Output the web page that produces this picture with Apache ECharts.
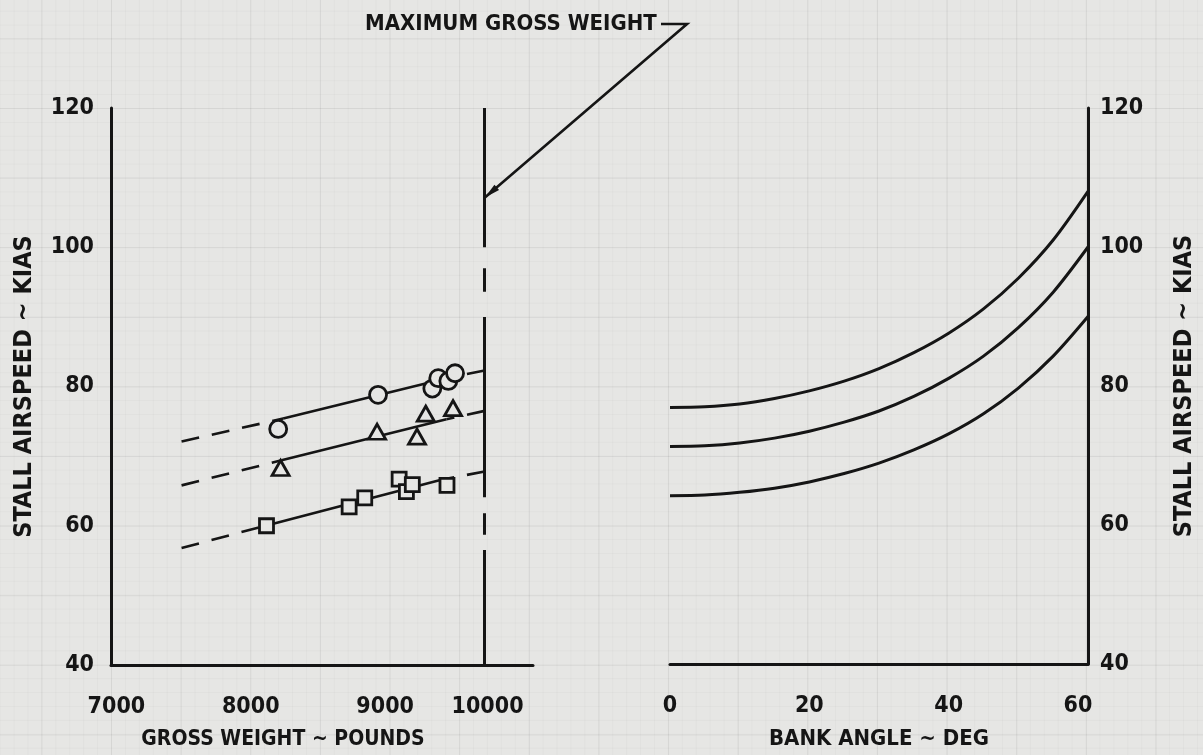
<!DOCTYPE html>
<html>
<head>
<meta charset="utf-8">
<title>Stall airspeed</title>
<script src="https://cdn.jsdelivr.net/npm/echarts@6/dist/echarts.min.js"></script>
<style>
    html, body { margin: 0; padding: 0; }
    body {
        background-color: #e6e6e4;
        background-image:
            linear-gradient(to right, rgba(0,0,0,0.05) 1px, transparent 1px),
            linear-gradient(to bottom, rgba(0,0,0,0.05) 1px, transparent 1px),
            linear-gradient(to right, rgba(0,0,0,0.022) 1px, transparent 1px),
            linear-gradient(to bottom, rgba(0,0,0,0.022) 1px, transparent 1px);
        background-size: 69.65px 69.62px, 69.65px 69.62px, 13.93px 13.92px, 13.93px 13.92px;
        background-position: 111px 108px;
    }
    #chart { width: 1203px; height: 755px; }
</style>
</head>
<body>
<div id="chart"></div>
<script>
const FONT = "'Liberation Sans Narrow', 'DejaVu Sans Condensed', 'Liberation Sans', sans-serif";
const INK = '#151515';
const PAPER = '#e6e6e4';

// left panel: stall airspeed vs gross weight (pounds, KIAS)
const MAX_GROSS_WEIGHT = 9740;
const weightTicks = [7000, 8000, 9000, 10000];
const circlePts = [[8204, 73.9], [8947, 78.8], [9351, 79.7], [9395, 81.2], [9470, 80.8], [9520, 81.9]];
const trianglePts = [[8222, 68.3], [8940, 73.5], [9237, 72.8], [9302, 76.1], [9505, 76.9]];
const squarePts = [[8117, 60.0], [8732, 62.7], [8848, 64.0], [9104, 66.7], [9158, 64.9], [9202, 65.9], [9460, 65.8]];

// faired lines through each group: solid part, dashed extensions
const circleFit = [[8241, 75.4], [9505, 81.4]];
const circleExtLeft = [[7485, 72.1], [8241, 75.4]];
const circleExtRight = [[9740, 82.3], [9505, 81.4]];
const triangleFit = [[8229, 69.4], [9456, 75.3]];
const triangleExtLeft = [[7485, 65.8], [8229, 69.4]];
const triangleExtRight = [[9740, 76.5], [9456, 75.3]];
const squareFit = [[8167, 60.3], [9418, 66.6]];
const squareExtLeft = [[7485, 56.8], [8167, 60.3]];
const squareExtRight = [[9740, 67.8], [9418, 66.6]];

// drawn pieces of the maximum gross weight line (airspeed from, to)
const maxWeightPieces = [[120, 100], [97, 93.6], [90, 64.1], [61.8, 58.7], [56.5, 40]];

// right panel: stall airspeed vs bank angle
const bankAngles = [0, 5, 10, 15, 20, 25, 30, 35, 40, 45, 50, 55, 60];
const vHigh = [76.9, 77.0, 77.4, 78.2, 79.3, 80.7, 82.5, 84.8, 87.6, 91.1, 95.5, 101.0, 108.0];
const vMid = [71.3, 71.4, 71.8, 72.5, 73.5, 74.8, 76.4, 78.5, 81.1, 84.3, 88.4, 93.5, 100.0];
const vLow = [64.2, 64.3, 64.7, 65.3, 66.2, 67.4, 68.9, 70.8, 73.1, 76.0, 79.7, 84.3, 90.0];

const labelFont = { fontFamily: FONT, fontWeight: 'bold', color: INK };

function fitSeries(data, dashed) {
    return {
        type: 'line',
        xAxisIndex: 0,
        yAxisIndex: 0,
        data: data,
        symbol: 'none',
        silent: true,
        z: 2,
        lineStyle: { color: INK, width: 2.6, type: dashed ? [18, 13] : 'solid', cap: 'butt' }
    };
}

function pointSeries(data, symbol, size) {
    return {
        type: 'scatter',
        xAxisIndex: 0,
        yAxisIndex: 0,
        data: data,
        symbol: symbol,
        symbolSize: size,
        z: 4,
        itemStyle: { color: PAPER, borderColor: INK, borderWidth: 2.8, opacity: 1 }
    };
}

function bankSeries(values) {
    return {
        type: 'line',
        xAxisIndex: 1,
        yAxisIndex: 1,
        data: bankAngles.map((b, i) => [b, values[i]]),
        smooth: 0.3,
        symbol: 'none',
        silent: true,
        lineStyle: { color: INK, width: 3 }
    };
}

const axisLineStyle = { show: true, onZero: false, lineStyle: { color: INK, width: 3 } };

const chart = echarts.init(document.getElementById('chart'));

chart.setOption({
    animation: false,
    backgroundColor: 'transparent',
    grid: [
        { left: 111, right: 670, top: 108, bottom: 90 },
        { left: 670, right: 115, top: 108, bottom: 90 }
    ],
    xAxis: [
        {
            type: 'value',
            gridIndex: 0,
            min: 6960,
            max: 10100,
            axisLine: axisLineStyle,
            axisTick: { show: false },
            splitLine: { show: false },
            axisLabel: {
                customValues: weightTicks,
                fontSize: 23,
                margin: 31,
                ...labelFont,
                formatter: (v) => (v === 10000 ? '{s|10000}' : String(v)),
                rich: { s: { fontSize: 23, ...labelFont, padding: [0, 64, 0, 0] } }
            },
            name: 'GROSS WEIGHT ~ POUNDS',
            nameLocation: 'middle',
            nameGap: 64,
            nameTextStyle: { fontSize: 21, ...labelFont, padding: [0, 78, 0, 0] }
        },
        {
            type: 'value',
            gridIndex: 1,
            min: 0,
            max: 60,
            interval: 20,
            axisLine: axisLineStyle,
            axisTick: { show: false },
            splitLine: { show: false },
            axisLabel: {
                fontSize: 23,
                margin: 31,
                ...labelFont,
                formatter: (v) => (v === 60 ? '{s|60}' : String(v)),
                rich: { s: { fontSize: 23, ...labelFont, padding: [0, 20, 0, 0] } }
            },
            name: 'BANK ANGLE ~ DEG',
            nameLocation: 'middle',
            nameGap: 64,
            nameTextStyle: { fontSize: 22, ...labelFont }
        }
    ],
    yAxis: [
        {
            type: 'value',
            gridIndex: 0,
            min: 40,
            max: 120,
            interval: 20,
            position: 'left',
            axisLine: axisLineStyle,
            axisTick: { show: false },
            splitLine: { show: false },
            axisLabel: { fontSize: 23, margin: 17, ...labelFont },
            name: 'STALL AIRSPEED ~ KIAS',
            nameLocation: 'middle',
            nameRotate: 90,
            nameGap: 74,
            nameTextStyle: { fontSize: 25, ...labelFont }
        },
        {
            type: 'value',
            gridIndex: 1,
            min: 40,
            max: 120,
            interval: 20,
            position: 'right',
            axisLine: axisLineStyle,
            axisTick: { show: false },
            splitLine: { show: false },
            axisLabel: { fontSize: 23, margin: 12, ...labelFont },
            name: 'STALL AIRSPEED ~ KIAS',
            nameLocation: 'middle',
            nameRotate: 90,
            nameGap: 84,
            nameTextStyle: { fontSize: 25, ...labelFont }
        }
    ],
    series: [
        {
            type: 'lines',
            coordinateSystem: 'cartesian2d',
            xAxisIndex: 0,
            yAxisIndex: 0,
            silent: true,
            lineStyle: { color: INK, width: 3, opacity: 1 },
            data: maxWeightPieces.map(([a, b]) => ({ coords: [[MAX_GROSS_WEIGHT, a], [MAX_GROSS_WEIGHT, b]] }))
        },
        fitSeries(circleFit, false),
        fitSeries(circleExtLeft, true),
        fitSeries(circleExtRight, true),
        fitSeries(triangleFit, false),
        fitSeries(triangleExtLeft, true),
        fitSeries(triangleExtRight, true),
        fitSeries(squareFit, false),
        fitSeries(squareExtLeft, true),
        fitSeries(squareExtRight, true),
        pointSeries(circlePts, 'circle', 17),
        pointSeries(trianglePts, 'triangle', [17, 15]),
        pointSeries(squarePts, 'rect', 14),
        bankSeries(vHigh),
        bankSeries(vMid),
        bankSeries(vLow)
    ]
});

// "MAXIMUM GROSS WEIGHT" pointer
const tip = chart.convertToPixel({ xAxisIndex: 0, yAxisIndex: 0 }, [MAX_GROSS_WEIGHT, 107.1]);
const elbow = [687, 24];
const dx = tip[0] - elbow[0];
const dy = tip[1] - elbow[1];
const len = Math.sqrt(dx * dx + dy * dy);
const ux = dx / len;
const uy = dy / len;
const back = [tip[0] - ux * 16, tip[1] - uy * 16];

chart.setOption({
    graphic: [
        {
            type: 'text',
            x: 365,
            y: 24,
            style: { text: 'MAXIMUM GROSS WEIGHT', font: 'bold 22px ' + FONT, fill: INK, verticalAlign: 'middle' }
        },
        {
            type: 'polyline',
            shape: { points: [[661, 24], elbow, tip] },
            style: { stroke: INK, lineWidth: 2.6, fill: null }
        },
        {
            type: 'polygon',
            shape: { points: [tip, [back[0] - uy * 3.5, back[1] + ux * 3.5], [back[0] + uy * 3.5, back[1] - ux * 3.5]] },
            style: { fill: INK }
        }
    ]
});

window.addEventListener('resize', () => chart.resize());
</script>
</body>
</html>
